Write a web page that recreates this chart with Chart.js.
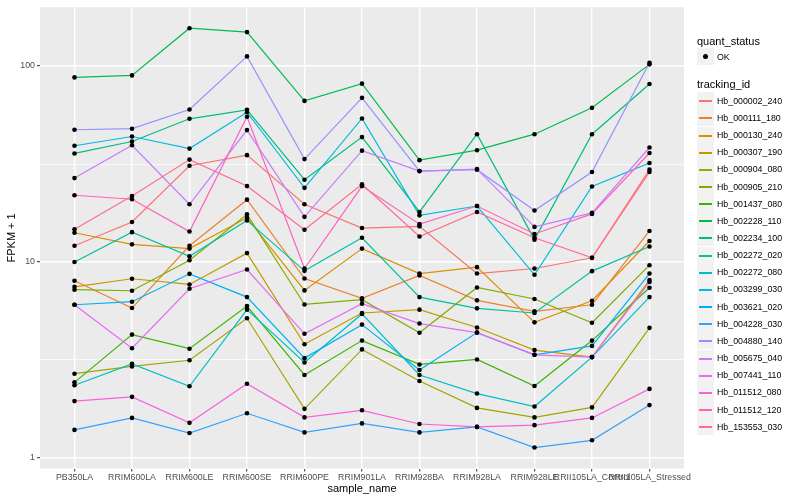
<!DOCTYPE html>
<html>
<head>
<meta charset="utf-8">
<script src="https://cdn.jsdelivr.net/npm/chart.js@4.4.1/dist/chart.umd.min.js"></script>
<style>
  html, body { margin: 0; padding: 0; background: #fff; }
  #wrap { position: relative; width: 800px; height: 500px; font-family: 'Liberation Sans', Arial, sans-serif; }
  #chart { position: absolute; left: 0; top: 0; }
  .lg { position: absolute; white-space: nowrap; color: #000; }
  .key { position: absolute; background: #F2F2F2; }
</style>
</head>
<body>
<div id="wrap">
  <canvas id="chart" width="800" height="500"></canvas>
  <div id="legend"></div>
</div>
<script>
// -----------------------------
// Data (FPKM + 1)
// -----------------------------
const samples = ['PB350LA', 'RRIM600LA', 'RRIM600LE', 'RRIM600SE', 'RRIM600PE', 'RRIM901LA',
  'RRIM928BA', 'RRIM928LA', 'RRIM928LE', 'RRII105LA_Control', 'RRII105LA_Stressed'];

const trackingIds = ['Hb_000002_240', 'Hb_000111_180', 'Hb_000130_240', 'Hb_000307_190', 'Hb_000904_080',
  'Hb_000905_210', 'Hb_001437_080', 'Hb_002228_110', 'Hb_002234_100', 'Hb_002272_020',
  'Hb_002272_080', 'Hb_003299_030', 'Hb_003621_020', 'Hb_004228_030', 'Hb_004880_140',
  'Hb_005675_040', 'Hb_007441_110', 'Hb_011512_080', 'Hb_011512_120', 'Hb_153553_030'];

const hueColors = ['#F8766D', '#EA8331', '#D89000', '#C09B00', '#A3A500', '#7CAE00', '#39B600', '#00BB4E',
  '#00BF7D', '#00C1A3', '#00BFC4', '#00BAE0', '#00B0F6', '#35A2FF', '#9590FF', '#C77CFF',
  '#E76BF3', '#FA62DB', '#FF62BC', '#FF6C91'];

const hb000002_240 = [12.1, 16.0, 31.0, 35.1, 19.7, 14.9, 15.2, 8.73, 9.26, 10.5, 29.6];
const hb000111_180 = [8.02, 5.82, 12.1, 20.8, 8.23, 6.52, 8.53, 6.37, 5.60, 6.05, 14.4];
const hb000130_240 = [14.1, 12.3, 11.7, 16.8, 7.16, 11.7, 8.73, 9.41, 4.92, 6.34, 12.8];
const hb000307_190 = [7.47, 8.21, 7.68, 11.1, 3.80, 5.49, 5.71, 4.63, 3.55, 3.27, 8.08];
const hb000904_080 = [2.69, 2.93, 3.15, 5.16, 1.78, 3.58, 2.47, 1.80, 1.61, 1.81, 4.61];
const hb000905_210 = [7.22, 7.13, 10.2, 17.5, 6.07, 6.42, 4.35, 7.41, 6.47, 4.90, 9.63];
const hb001437_080 = [2.43, 4.26, 3.61, 5.96, 2.65, 3.97, 3.00, 3.18, 2.33, 3.97, 7.39];
const hb002228_110 = [87.5, 89.6, 156, 149, 66.4, 81.3, 33.1, 37.2, 44.9, 61.2, 102];
const hb002234_100 = [35.8, 41.2, 53.8, 59.8, 26.3, 43.4, 18.0, 44.9, 13.0, 44.9, 81.0];
const hb002272_020 = [10.0, 14.2, 10.7, 16.3, 9.01, 13.3, 6.62, 5.80, 5.49, 8.98, 12.0];
const hb002272_080 = [2.35, 3.02, 2.32, 5.71, 3.07, 5.43, 2.65, 2.13, 1.83, 3.27, 6.62];
const hb003299_030 = [39.2, 43.7, 37.9, 58.1, 23.9, 54.0, 17.3, 19.3, 8.60, 24.3, 32.0];
const hb003621_020 = [6.05, 6.27, 8.70, 6.62, 3.23, 4.79, 2.81, 4.36, 3.36, 3.73, 8.73];
const hb004228_030 = [1.39, 1.60, 1.34, 1.69, 1.35, 1.50, 1.35, 1.44, 1.13, 1.23, 1.86];
const hb004880_140 = [47.3, 47.9, 60.0, 112, 33.5, 68.8, 29.1, 29.6, 18.3, 28.8, 104];
const hb005675_040 = [26.8, 39.4, 19.7, 47.1, 17.0, 37.0, 29.1, 29.8, 15.1, 17.8, 38.4];
const hb007441_110 = [6.05, 3.63, 7.30, 9.15, 4.30, 6.12, 4.85, 4.36, 3.36, 3.27, 7.90];
const hb011512_080 = [1.95, 2.05, 1.51, 2.39, 1.61, 1.75, 1.49, 1.44, 1.47, 1.60, 2.25];
const hb011512_120 = [21.9, 20.9, 14.3, 55.1, 9.26, 24.4, 15.6, 19.3, 13.9, 17.6, 36.0];
const hb153553_030 = [14.7, 21.7, 33.3, 24.4, 14.6, 24.9, 13.5, 18.0, 13.3, 10.5, 28.8];

const seriesValues = [hb000002_240, hb000111_180, hb000130_240, hb000307_190, hb000904_080,
  hb000905_210, hb001437_080, hb002228_110, hb002234_100, hb002272_020,
  hb002272_080, hb003299_030, hb003621_020, hb004228_030, hb004880_140,
  hb005675_040, hb007441_110, hb011512_080, hb011512_120, hb153553_030];

const yGrid = [1, Math.sqrt(10), 10, Math.sqrt(1000), 100];
const yMajor = [1, 10, 100];

// -----------------------------
// Datasets
// -----------------------------
const toPoints = vals => vals.map((v, i) => ({ x: i, y: v }));

const lineSets = seriesValues.map((vals, k) => ({
  label: trackingIds[k],
  data: toPoints(vals),
  borderColor: hueColors[k],
  borderWidth: 1.2,
  pointRadius: 0,
  fill: false,
  tension: 0,
  order: 100 - k
}));

const pointSet = {
  label: 'OK',
  type: 'scatter',
  data: seriesValues.flatMap(toPoints),
  backgroundColor: '#000',
  borderColor: '#000',
  pointRadius: 2.3,
  borderWidth: 0,
  showLine: false,
  order: 0
};

// panel background
const panelBg = {
  id: 'panelBg',
  beforeDraw(chart) {
    const { ctx, chartArea: a } = chart;
    ctx.save();
    ctx.fillStyle = '#EBEBEB';
    ctx.fillRect(a.left, a.top, a.right - a.left, a.bottom - a.top);
    ctx.restore();
  }
};

Chart.defaults.font.family = "'Liberation Sans', Arial, sans-serif";

new Chart(document.getElementById('chart'), {
  type: 'line',
  data: { datasets: [...lineSets, pointSet] },
  plugins: [panelBg],
  options: {
    responsive: false,
    animation: false,
    layout: { padding: { left: 0, top: 5, right: 116, bottom: 0 } },
    plugins: { legend: { display: false }, tooltip: { enabled: false } },
    scales: {
      x: {
        type: 'linear',
        min: -0.6,
        max: 10.6,
        afterBuildTicks: s => { s.ticks = samples.map((_, i) => ({ value: i })); },
        afterFit: s => { s.height = 31.5; },
        ticks: {
          autoSkip: false, maxRotation: 0, minRotation: 0, padding: 1,
          color: '#4D4D4D', font: { size: 8.8 },
          callback: v => samples[v]
        },
        grid: { color: '#FFFFFF', lineWidth: 1.4, tickColor: '#333333', tickWidth: 1, tickLength: 3 },
        border: { display: false },
        title: { display: true, text: 'sample_name', color: '#000', font: { size: 11 }, padding: { top: 0, bottom: 4 } }
      },
      y: {
        type: 'logarithmic',
        min: 0.883,
        max: 199.5,
        afterBuildTicks: s => { s.ticks = yGrid.map(v => ({ value: v })); },
        afterFit: s => { s.width = 40; },
        ticks: {
          padding: 2, color: '#4D4D4D', font: { size: 8.8 },
          callback: v => yMajor.includes(v) ? String(v) : ''
        },
        grid: {
          color: '#FFFFFF',
          lineWidth: c => yMajor.includes(c.tick.value) ? 1.4 : 0.7,
          tickColor: c => yMajor.includes(c.tick.value) ? '#333333' : 'rgba(0,0,0,0)',
          tickWidth: 1, tickLength: 3
        },
        border: { display: false },
        title: { display: true, text: 'FPKM + 1', color: '#000', font: { size: 11 }, padding: { top: 5, bottom: 0 } }
      }
    }
  }
});

// -----------------------------
// Legend (ggplot style, HTML)
// -----------------------------
const legend = document.getElementById('legend');
const lgLeft = 697, keySize = 17, rowStep = 17.16, firstRow = 100.7;

const addText = (txt, x, cy, size) => {
  const d = document.createElement('div');
  d.className = 'lg';
  d.textContent = txt;
  d.style.left = x + 'px';
  d.style.top = Math.round(cy - 10) + 'px';
  d.style.height = '20px';
  d.style.lineHeight = '20px';
  d.style.fontSize = size + 'px';
  legend.appendChild(d);
};

const addKey = (cy, inner) => {
  const k = document.createElement('div');
  k.className = 'key';
  k.style.left = lgLeft + 'px';
  k.style.top = Math.round(cy - keySize / 2) + 'px';
  k.style.width = keySize + 'px';
  k.style.height = keySize + 'px';
  k.appendChild(inner);
  legend.appendChild(k);
};

addText('quant_status', lgLeft, 40.7, 11);
const dot = document.createElement('div');
dot.style.cssText = 'position:absolute;left:6px;top:6px;width:5px;height:5px;border-radius:50%;background:#000;';
addKey(56.7, dot);
addText('OK', 717, 56.7, 8.8);

addText('tracking_id', lgLeft, 84.3, 11);
trackingIds.forEach((id, k) => {
  const cy = firstRow + k * rowStep;
  const seg = document.createElement('div');
  seg.style.cssText = 'position:absolute;left:2px;width:13px;top:8px;height:2px;background:' + hueColors[k] + ';';
  addKey(cy, seg);
  addText(id, 717, cy, 8.8);
});
</script>
</body>
</html>
